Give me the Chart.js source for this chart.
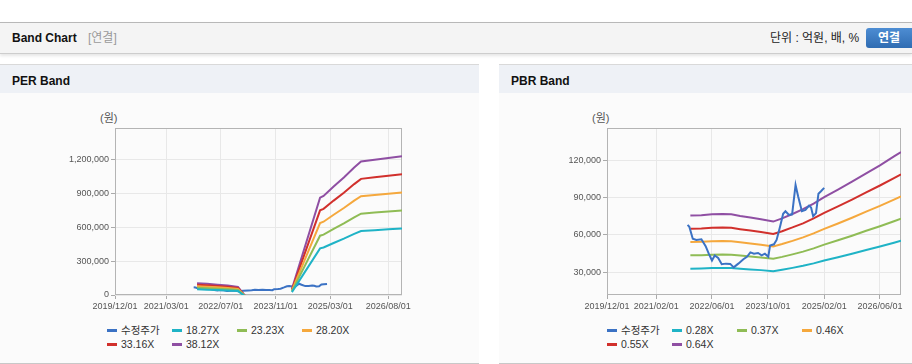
<!DOCTYPE html>
<html><head><meta charset="utf-8">
<script src="https://cdn.jsdelivr.net/npm/chart.js@4.4.1/dist/chart.umd.min.js"></script>
<style>
body{margin:0;width:912px;height:364px;overflow:hidden;background:#fff;position:relative;font-family:"Liberation Sans","Noto Sans CJK KR",Arial,sans-serif}
.hdr{position:absolute;left:0;top:22px;width:912px;height:30px;background:#f4f4f4;border-top:1px solid #b8b8b8;border-bottom:1px solid #cdcdcd;box-shadow:0 2px 3px rgba(0,0,0,0.10)}
.hdr .t{position:absolute;left:12px;top:8px;font-weight:bold;font-size:12px;line-height:14px;color:#111}
.hdr .s{position:absolute;left:88px;top:8px;font-size:12px;line-height:14px;color:#9a9a9a}
.hdr .u{position:absolute;left:770px;top:7px;font-size:12px;line-height:16px;color:#222}
.hdr .b{position:absolute;left:866px;top:5px;width:52px;height:20px;border-radius:3px;background:linear-gradient(#4d8dd3,#2f6cb2);color:#fff;font-weight:bold;font-size:12px;line-height:20px;text-align:center;text-indent:-6px}
.panel{position:absolute;top:64px;height:298px;background:#fbfbfb;border-top:1px solid #d9d9d9;border-bottom:1px solid #c8c8c8}
.panel .ph{position:absolute;left:0;top:0;right:0;height:28px;background:#eef1f6}
.panel .pt{position:absolute;left:12px;top:9px;font-weight:bold;font-size:12px;line-height:14px;color:#111}
canvas{position:absolute}
.unit{position:absolute;font-size:11px;line-height:14px;color:#555}
.lg{position:absolute;font-size:10.5px;line-height:14px;color:#333;white-space:nowrap}
.lg i{display:inline-block;width:10px;height:3px;vertical-align:middle;margin-right:4px;position:relative;top:-1px}
</style></head>
<body>
<div class="hdr"><span class="t">Band Chart</span><span class="s">[연결]</span><span class="u">단위 : 억원, 배, %</span><span class="b">연결</span></div>
<div class="panel" style="left:0;width:479px"><div class="ph"></div><div class="pt">PER Band</div></div>
<div class="panel" style="left:499px;width:413px"><div class="ph"></div><div class="pt">PBR Band</div></div>
<div class="unit" style="left:100px;top:111px">(원)</div>
<div class="unit" style="left:592px;top:111px">(원)</div>
<canvas id="per" width="479" height="225" style="left:0;top:93px"></canvas>
<canvas id="pbr" width="413" height="225" style="left:499px;top:93px"></canvas>
<div id="perLegend"></div>
<div id="pbrLegend"></div>
<script>
// ---- shared price series (수정주가) ----
const priceDates = ['2021-11-01','2021-11-16','2021-12-16','2022-01-16','2022-03-01','2022-04-07','2022-05-04','2022-06-01','2022-06-25','2022-07-25','2022-08-25','2022-10-01','2022-11-07','2022-12-07','2023-01-16','2023-03-01','2023-04-01','2023-05-01','2023-06-01','2023-07-07','2023-08-07','2023-09-04','2023-10-04','2023-10-19','2023-11-22','2023-12-15','2024-01-15','2024-02-10','2024-03-01','2024-04-01','2024-04-28','2024-05-28','2024-06-19','2024-07-22','2024-08-22','2024-09-22','2024-10-10','2024-10-28','2024-11-22','2024-12-13','2025-01-04','2025-02-01'];
const priceValues = [68000,66500,57000,56000,56500,51000,45000,39500,43500,41500,36500,37000,36800,34000,37000,40500,42500,46000,45000,45500,43700,45000,42500,51500,52500,56000,67000,77000,79000,76000,76500,100000,91000,79000,80000,83500,82000,75000,77500,93000,95000,97700];

// ---- PER band ----
const perLabels = ['수정주가','18.27X','23.23X','28.20X','33.16X','38.12X'];
const perBandDates = ['2021-12-01','2022-03-01','2022-06-01','2022-09-01','2022-12-01','2023-02-07','2023-08-01','2024-03-25','2024-12-01','2025-01-01','2025-04-01','2025-07-01','2025-10-01','2025-12-01','2026-04-01','2026-08-01','2026-12-01'];
const per1827 = [50200,47500,43800,40200,34700,-15000,null,25600,412900,420200,460400,498800,540800,566400,573700,581000,588300];
const per2323 = [63900,60400,55800,51100,44100,-15000,null,32500,525000,534300,585400,634200,687600,720100,729400,738700,748000];
const per2820 = [77600,73300,67700,62000,53600,-15000,null,39500,637300,648600,710600,769900,834700,874200,885500,896800,908000];
const per3316 = [91200,86200,79600,73000,63000,-15000,null,46400,749400,762700,835600,905300,981500,1028000,1041200,1054500,1067800];
const per3812 = [104800,99100,91500,83900,72400,-15000,null,53400,861500,876800,960600,1040700,1128400,1181700,1196800,1212200,1227500];
const perYTicks = [0,300000,600000,900000,1200000];
const perXTicks = ['2019/12/01','2021/03/01','2022/07/01','2023/11/01','2025/03/01','2026/08/01'];

// ---- PBR band ----
const pbrLabels = ['수정주가','0.28X','0.37X','0.46X','0.55X','0.64X'];
const pbrBandDates = ['2021-11-25','2022-03-01','2022-06-01','2022-09-01','2022-11-16','2023-02-01','2023-05-01','2023-08-01','2023-11-16','2024-02-01','2024-05-01','2024-08-01','2024-11-01','2025-02-01','2025-06-01','2025-10-01','2026-02-01','2026-06-01','2026-10-01','2026-12-01'];
const pbr028 = [33000,33200,33500,33600,33500,32900,32300,31800,30900,32100,33600,35300,37200,39500,42100,44900,47900,50700,53800,55300];
const pbr037 = [43700,43800,44200,44400,44200,43500,42700,42000,40900,42400,44400,46600,49200,52200,55700,59400,63300,67000,71000,73100];
const pbr046 = [54300,54500,55000,55200,55000,54100,53100,52200,50800,52700,55200,58000,61200,64900,69200,73800,78700,83300,88300,90900];
const pbr055 = [64900,65200,65700,66000,65700,64600,63500,62400,60800,63000,66000,69300,73200,77600,82800,88300,94100,99600,105600,108600];
const pbr064 = [75500,75800,76500,76800,76500,75200,73900,72600,70700,73300,76800,80600,85100,90200,96300,102700,109400,115800,122900,126400];
const pbrYTicks = [30000,60000,90000,120000];
const pbrXTicks = ['2019/12/01','2021/02/01','2022/06/01','2023/10/01','2025/02/01','2026/06/01'];

const seriesColors = ['#3b72c4','#1fb3c6','#8fbc55','#f5a83d','#d1302c','#8f4fa3'];
const xStart = '2019-12-01', xEnd = '2026-12-01';

function dayOf(s){
  const p = s.replace(/\//g,'-').split('-').map(Number);
  const b = xStart.split('-').map(Number);
  return (Date.UTC(p[0],p[1]-1,p[2]) - Date.UTC(b[0],b[1]-1,b[2]))/86400000;
}
function pts(dates, vals){ return dates.map((d,i)=>({x:dayOf(d), y:vals[i]})); }

const framePlugin = {id:'frame', beforeDatasetsDraw(chart){
  const a = chart.chartArea, c = chart.ctx;
  c.save(); c.strokeStyle = '#b4b4b4'; c.lineWidth = 1;
  c.strokeRect(Math.round(a.left)+0.5, Math.round(a.top)+0.5, Math.round(a.right-a.left)-1, Math.round(a.bottom-a.top)-1);
  c.restore();
}};

function makeChart(id, labels, series, yTicks, yMin, yMax, xTicks, yWidth, rightPad, priceBelow){
  const datasets = series.map((s,i)=>({
    label: labels[i], data: pts(s.dates, s.vals), borderColor: seriesColors[i], backgroundColor: seriesColors[i],
    borderWidth: 2, pointRadius: 0, tension: 0, spanGaps: false, order: (i===0 && priceBelow) ? 10 : i
  }));
  const font = {family:'"Liberation Sans", Arial, sans-serif', size:9};
  return new Chart(document.getElementById(id), {
    type:'line',
    data:{datasets},
    options:{
      responsive:false, animation:false, devicePixelRatio:1, events:[],
      layout:{padding:{left:0,right:rightPad,top:35,bottom:0}},
      plugins:{legend:{display:false}, tooltip:{enabled:false}},
      scales:{
        x:{type:'linear', min:0, max:dayOf(xEnd),
          afterBuildTicks(sc){ sc.ticks = xTicks.map(t=>({value:dayOf(t)})); },
          afterFit(sc){ sc.height = 23; },
          ticks:{autoSkip:false, maxRotation:0, color:'#555', font, padding:2,
            callback:(v,i)=>xTicks[i]},
          grid:{color:'#e8e8e8', tickColor:'#aaa', tickLength:4, drawTicks:true},
          border:{display:false}},
        y:{type:'linear', min:yMin, max:yMax,
          afterBuildTicks(sc){ sc.ticks = yTicks.map(v=>({value:v})); },
          afterFit(sc){ sc.width = yWidth; },
          ticks:{color:'#555', font, padding:2, callback:v=>v.toLocaleString('en-US')},
          grid:{color:'#e8e8e8', tickColor:'#aaa', tickLength:4, drawTicks:true},
          border:{display:false}}
      }
    },
    plugins:[framePlugin]
  });
}

function makeLegend(id, labels, left){
  const el = document.getElementById(id);
  labels.forEach((lab,i)=>{
    const d = document.createElement('div');
    d.className = 'lg';
    d.style.left = (left + (i%4)*65) + 'px';
    d.style.top = (323 + Math.floor(i/4)*14) + 'px';
    d.innerHTML = '<i style="background:'+seriesColors[i]+'"></i>' + lab;
    el.appendChild(d);
  });
}

makeChart('per', perLabels, [
  {dates:priceDates, vals:priceValues},
  {dates:perBandDates, vals:per1827},
  {dates:perBandDates, vals:per2323},
  {dates:perBandDates, vals:per2820},
  {dates:perBandDates, vals:per3316},
  {dates:perBandDates, vals:per3812}
], perYTicks, 0, 1478000, perXTicks, 115, 77, true);

makeChart('pbr', pbrLabels, [
  {dates:priceDates, vals:priceValues},
  {dates:pbrBandDates, vals:pbr028},
  {dates:pbrBandDates, vals:pbr037},
  {dates:pbrBandDates, vals:pbr046},
  {dates:pbrBandDates, vals:pbr055},
  {dates:pbrBandDates, vals:pbr064}
], pbrYTicks, 11870, 145670, pbrXTicks, 108, 11, false);

makeLegend('perLegend', perLabels, 107);
makeLegend('pbrLegend', pbrLabels, 607);
</script>
</body></html>
